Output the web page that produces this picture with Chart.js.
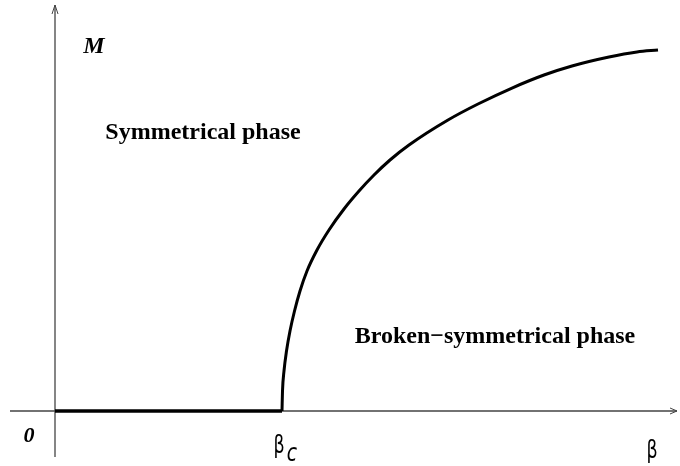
<!DOCTYPE html>
<html>
<head>
<meta charset="utf-8">
<script src="https://cdn.jsdelivr.net/npm/chart.js@4/dist/chart.umd.min.js"></script>
<style>
  html, body { margin: 0; padding: 0; background: #fff; }
  #phaseChart { display: block; }
</style>
</head>
<body>
<canvas id="phaseChart" width="680" height="466"></canvas>
<script>
// beta values (beta_c = 1) and magnetisation M (normalised to 1 at the right end)
var flatBeta = [0, 1];
var flatM = [0, 0];

var curveBeta = [1.0, 1.0022, 1.0088, 1.0198, 1.0352, 1.0551, 1.0793, 1.1101, 1.1542, 1.2070,
                 1.2731, 1.3392, 1.4053, 1.4758, 1.5595, 1.7313, 1.8634, 2.0132, 2.1542, 2.2775,
                 2.4405, 2.5639, 2.6564];
var curveM = [0, 0.0554, 0.1108, 0.1662, 0.2216, 0.2770, 0.3324, 0.3878, 0.4460, 0.5014,
              0.5596, 0.6094, 0.6537, 0.6953, 0.7368, 0.8061, 0.8504, 0.8947, 0.9307, 0.9557,
              0.9806, 0.9945, 1.0];

function toPoints(xs, ys) {
    var pts = [];
    for (var i in xs) {
        pts.push({x: xs[i], y: ys[i]});
    }
    return pts;
}

var serif = '"Liberation Serif", "Times New Roman", serif';
var sans = '"DejaVu Sans", sans-serif';

// narrow glyph: squeeze horizontally around its centre
function narrowText(ctx, txt, x, y, sx) {
    ctx.save();
    ctx.translate(x, y);
    ctx.scale(sx, 1);
    ctx.fillText(txt, 0, 0);
    ctx.restore();
}

// axes with arrow heads, plus the labels
var phaseAxes = {
    id: 'phaseAxes',
    beforeDatasetsDraw: function (chart) {
        var ctx = chart.ctx;
        var xs = chart.scales.x, ys = chart.scales.y;
        var x0 = xs.getPixelForValue(0);
        var y0 = ys.getPixelForValue(0);

        ctx.save();
        ctx.strokeStyle = '#444';
        ctx.lineWidth = 1.3;
        ctx.beginPath();
        ctx.moveTo(10, y0);
        ctx.lineTo(677, y0);
        ctx.moveTo(x0, 457);
        ctx.lineTo(x0, 5);
        ctx.stroke();
        ctx.lineWidth = 1;
        ctx.beginPath();
        ctx.moveTo(670, y0 - 3);
        ctx.lineTo(677, y0);
        ctx.lineTo(670, y0 + 3);
        ctx.moveTo(x0 - 3, 14);
        ctx.lineTo(x0, 5);
        ctx.lineTo(x0 + 3, 14);
        ctx.stroke();
        ctx.restore();
    },
    afterDatasetsDraw: function (chart) {
        var ctx = chart.ctx;
        ctx.save();
        ctx.fillStyle = '#000';
        ctx.textAlign = 'center';
        ctx.textBaseline = 'alphabetic';

        ctx.font = 'italic bold 24px ' + serif;
        ctx.fillText('M', 94, 53);
        ctx.font = 'italic bold 22px ' + serif;
        ctx.fillText('0', 29, 442);

        ctx.font = 'bold 24px ' + serif;
        ctx.fillText('Symmetrical phase', 203, 139);
        ctx.fillText('Broken\u2212symmetrical phase', 495, 343);

        ctx.font = '25px ' + sans;
        narrowText(ctx, '\u03b2', 279, 453, 0.7);
        narrowText(ctx, '\u03b2', 652, 458, 0.7);
        ctx.font = 'italic 25px ' + sans;
        narrowText(ctx, 'c', 292, 461, 0.75);
        ctx.restore();
    }
};

var chartdata = {
    datasets: [{
            label: 'flat',
            data: toPoints(flatBeta, flatM),
            borderColor: '#000',
            borderWidth: 3.5,
            pointRadius: 0,
            tension: 0
    }, {
            label: 'M',
            data: toPoints(curveBeta, curveM),
            borderColor: '#000',
            borderWidth: 3,
            pointRadius: 0,
            cubicInterpolationMode: 'monotone'
    }]
};

new Chart(document.getElementById('phaseChart'), {
    type: 'scatter',
    data: chartdata,
    options: {
        responsive: false,
        animation: false,
        showLine: true,
        layout: { padding: 0 },
        plugins: {
            legend: { display: false },
            tooltip: { enabled: false }
        },
        scales: {
            x: { type: 'linear', display: false, min: -0.2423, max: 2.7533 },
            y: { type: 'linear', display: false, min: -0.1524, max: 1.1385 }
        }
    },
    plugins: [phaseAxes]
});
</script>
</body>
</html>
